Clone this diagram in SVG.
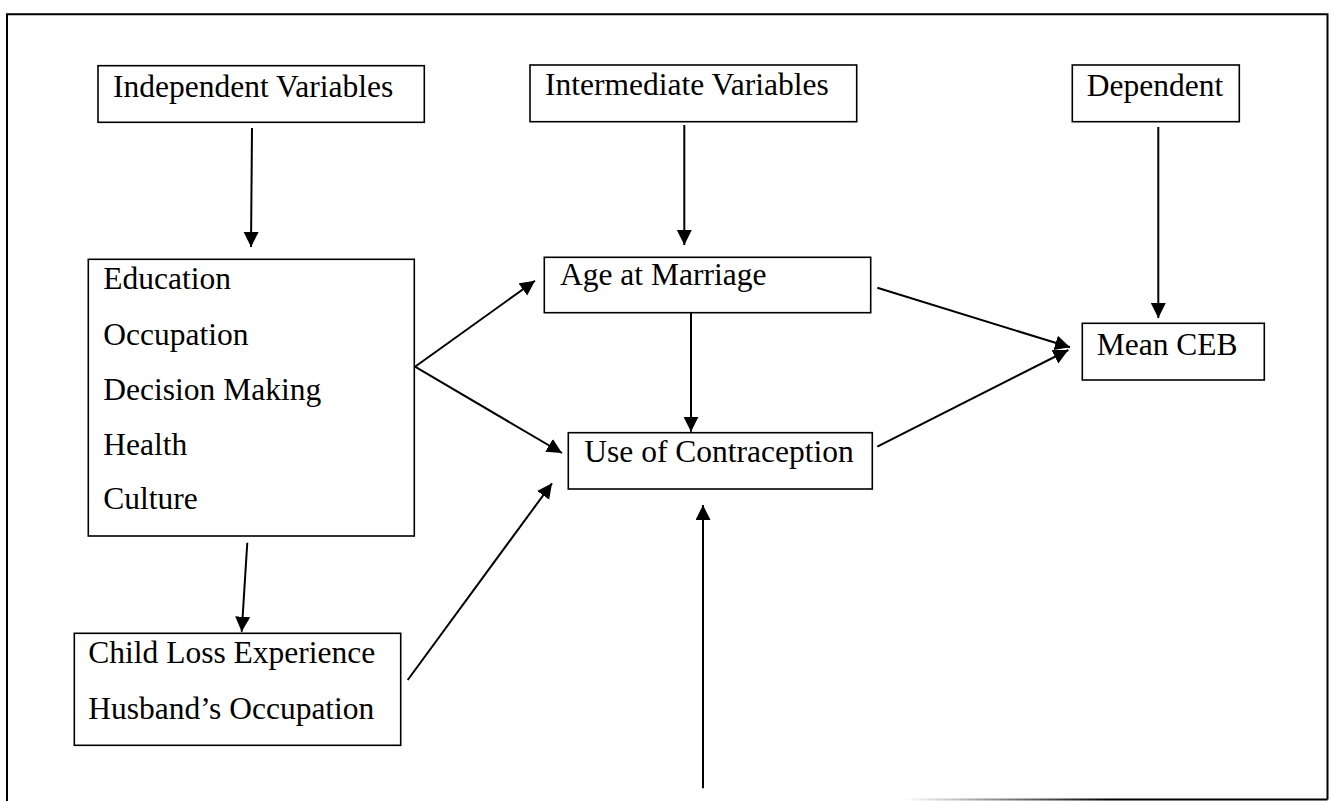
<svg xmlns="http://www.w3.org/2000/svg" width="1332" height="801" viewBox="0 0 1332 801">
<style>
.box{fill:#fff;stroke:#000;stroke-width:1.6}
.t{font-family:"Liberation Serif","Times New Roman",serif;font-size:31.5px;fill:#000}
.c{fill:none;stroke:#000;stroke-width:2;marker-end:url(#ah)}
</style>
<defs>
<marker id="ah" markerUnits="userSpaceOnUse" markerWidth="16" markerHeight="16" refX="15" refY="7.5" orient="auto">
<path d="M0,0 L15,7.5 L0,15 z" fill="#000"/>
</marker>
<linearGradient id="fade" gradientUnits="userSpaceOnUse" x1="905" y1="0" x2="1110" y2="0">
<stop offset="0" stop-color="#fff"/>
<stop offset="1" stop-color="#000"/>
</linearGradient>
</defs>
<rect width="1332" height="801" fill="#fff"/>
<g id="frame">
<path d="M7,801 V14.3 H1327.5 V799.5" fill="none" stroke="#000" stroke-width="2"/>
<line x1="905" y1="799.5" x2="1327.5" y2="799.5" stroke="url(#fade)" stroke-width="2"/>
</g>
<g id="connectors">
<line class="c" x1="252" y1="128" x2="251" y2="247"/>
<line class="c" x1="684.3" y1="125" x2="684.3" y2="245"/>
<line class="c" x1="1158.3" y1="127" x2="1158.3" y2="318"/>
<line class="c" x1="415" y1="366.7" x2="535" y2="280.7"/>
<line class="c" x1="415" y1="366.7" x2="562" y2="453"/>
<line class="c" x1="691" y1="312.7" x2="691" y2="431.7"/>
<line class="c" x1="877.3" y1="287.7" x2="1070" y2="347.3"/>
<line class="c" x1="877.3" y1="446.7" x2="1068.3" y2="350"/>
<line class="c" x1="407.7" y1="680" x2="552" y2="483.3"/>
<line class="c" x1="247.3" y1="542.7" x2="241.7" y2="631.7"/>
<line class="c" x1="703" y1="788.3" x2="703" y2="505"/>
</g>
<g id="independent">
<rect class="box" x="98" y="65.7" width="326.3" height="56.6"/>
<text class="t" x="113" y="97">Independent Variables</text>
</g>
<g id="intermediate">
<rect class="box" x="530" y="65" width="326.7" height="56.7"/>
<text class="t" x="545" y="95">Intermediate Variables</text>
</g>
<g id="dependent">
<rect class="box" x="1072.3" y="65" width="167" height="56.7"/>
<text class="t" x="1086.7" y="95.7">Dependent</text>
</g>
<g id="factors">
<rect class="box" x="88.3" y="259.3" width="326" height="276.7"/>
<text class="t" x="103.3" y="289.3">Education</text>
<text class="t" x="103.3" y="345">Occupation</text>
<text class="t" x="103.3" y="400">Decision Making</text>
<text class="t" x="103.3" y="455">Health</text>
<text class="t" x="103.3" y="509.3">Culture</text>
</g>
<g id="age">
<rect class="box" x="544.3" y="257.3" width="326.4" height="55.4"/>
<text class="t" x="560" y="285">Age at Marriage</text>
</g>
<g id="contraception">
<rect class="box" x="568.3" y="432.7" width="304" height="56.3"/>
<text class="t" x="584.3" y="461.7">Use of Contraception</text>
</g>
<g id="ceb">
<rect class="box" x="1082.3" y="323.3" width="182" height="56.7"/>
<text class="t" x="1096.7" y="355">Mean CEB</text>
</g>
<g id="childloss">
<rect class="box" x="74.3" y="633.3" width="326.4" height="112"/>
<text class="t" x="88.3" y="663.3">Child Loss Experience</text>
<text class="t" x="88.3" y="719">Husband’s Occupation</text>
</g>
</svg>
